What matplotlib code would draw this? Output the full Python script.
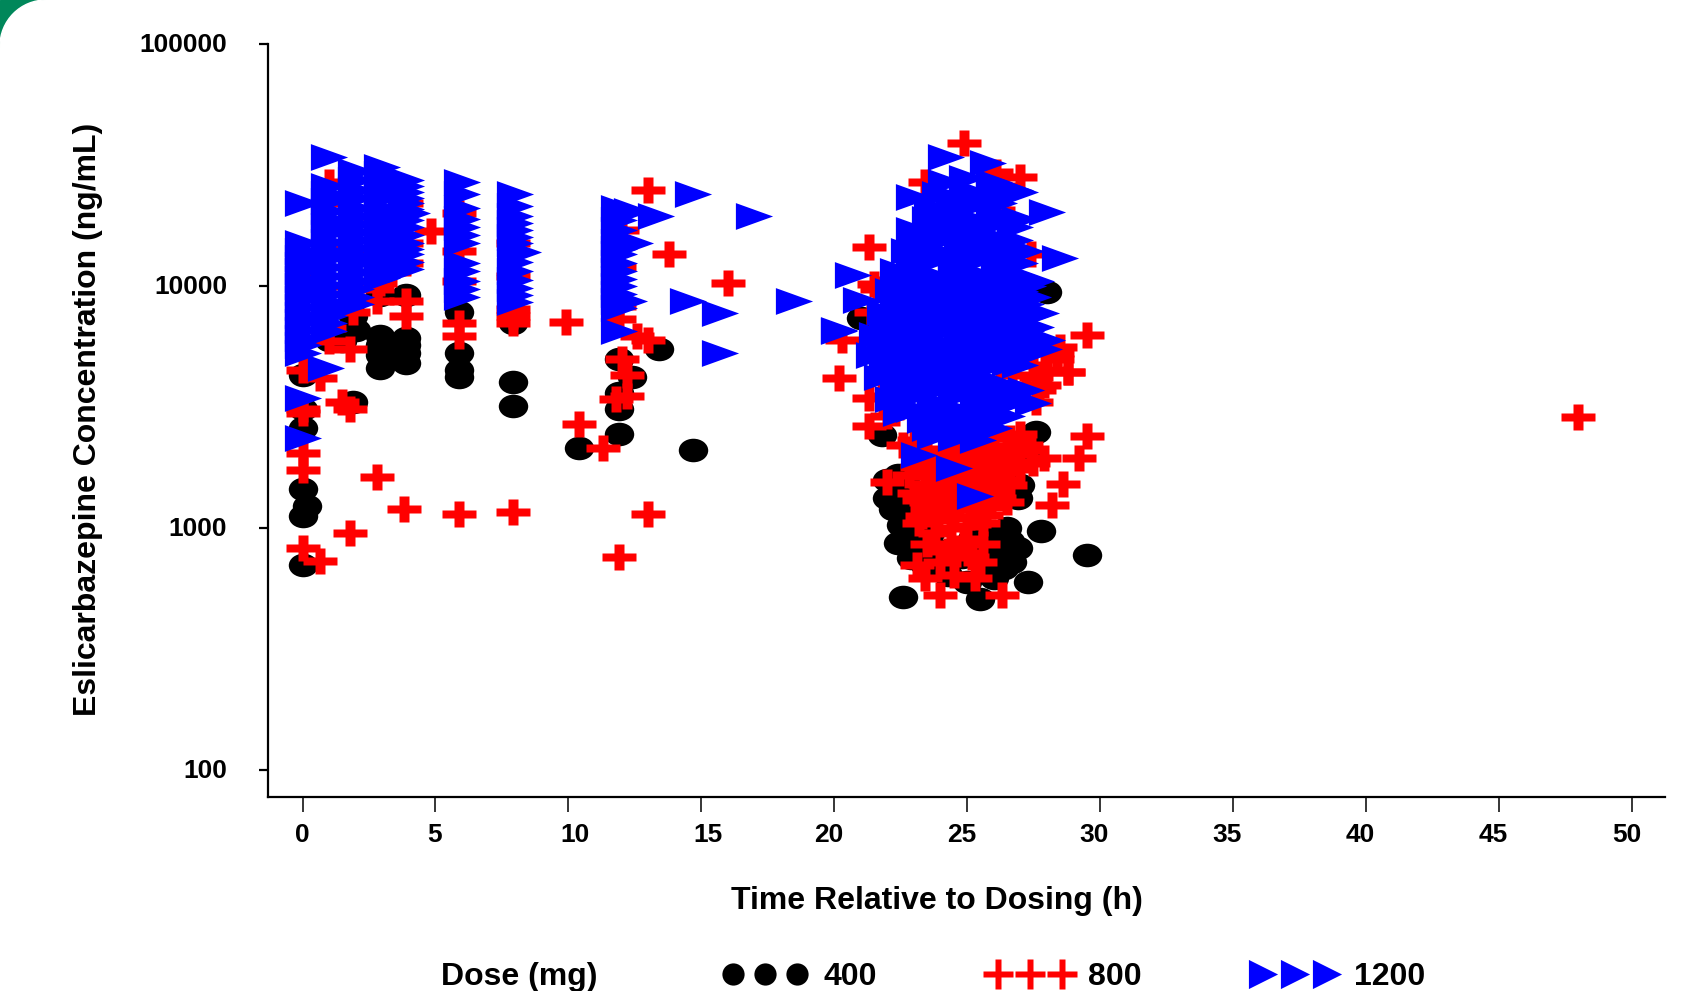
import matplotlib
matplotlib.use("Agg")
import matplotlib.pyplot as plt
import numpy as np
from matplotlib.lines import Line2D
from matplotlib.patches import Ellipse, Rectangle
from matplotlib.path import Path
from matplotlib.transforms import Affine2D, ScaledTranslation

plt.rcParams["font.family"] = ["Liberation Sans", "DejaVu Sans"]
plt.rcParams["font.weight"] = "bold"

# values: (time h, concentration ng/mL)
dose_400 = [
    (0, 1450), (0, 1120), (0.15, 1230), (0, 700), (0, 3100), (0, 2600), (0, 4300),
    (1.0, 6000), (1.5, 5900), (1.9, 7500), (2.0, 6600), (1.9, 3300),
    (2.9, 4600), (2.9, 5200), (2.9, 5700), (2.9, 6200), (3.9, 4800), (3.9, 5300),
    (3.9, 5700), (3.9, 6100), (2.9, 9200), (3.9, 9200),
    (5.9, 7800), (5.9, 5300), (5.9, 4500), (5.9, 4200), (7.9, 4000), (7.9, 3200), (7.9, 7000),
    (10.4, 2150), (11.9, 2450), (11.9, 3100), (11.9, 3600), (11.9, 5000), (12.4, 4200),
    (13.4, 5500), (14.7, 2100), (21.0, 7370), (28.0, 9450),
    (22.6, 520), (25.5, 510), (27.3, 600), (29.5, 773), (27.8, 970), (26.9, 825),
    (26.7, 725), (22.5, 1030), (22.4, 870), (22.9, 750), (26.2, 910), (22.0, 1330),
    (22.0, 1580), (26.9, 1330), (27.6, 2500), (21.8, 2420), (22.4, 1650), (23.0, 900),
    (23.4, 700), (23.8, 820), (24.3, 640), (24.8, 760), (25.2, 900), (25.8, 660),
    (26.1, 720), (26.3, 800), (25.0, 600), (26.5, 1000), (26.6, 1450), (27.2, 2000),
    (22.7, 1150), (23.0, 1300), (23.2, 800), (23.6, 950), (25.9, 800), (26.0, 620),
    (26.4, 680), (26.6, 880), (25.6, 950), (27.0, 1500), (22.2, 1200), (22.7, 1500),
]
dose_800 = [
    (48.0, 2870), (0, 2050), (0, 1730), (0, 830), (0.65, 730), (1.8, 950), (2.8, 1620),
    (3.8, 1200), (5.9, 1140), (7.9, 1160), (13.0, 1140), (11.9, 760), (10.4, 2700),
    (11.3, 2130), (9.9, 7100), (4.85, 16800), (5.9, 6200), (5.9, 7000), (7.9, 7000),
    (13.0, 24900), (13.8, 13600), (16.0, 10300), (13.0, 6000), (12.6, 6200), (12.0, 5000),
    (12.2, 4300), (12.2, 3500), (11.8, 3400), (1.8, 5500), (1.8, 3100), (1.5, 3300),
    (0, 4500), (0.65, 4150), (0, 3000), (0, 3100), (2.8, 9700), (2.8, 8700), (3.9, 8700),
    (3.9, 7500), (2.9, 10300), (1.0, 5900), (1.0, 6700), (1.9, 7800), (5.9, 14000),
    (5.9, 20000), (5.9, 10500), (7.9, 11000), (7.9, 8000), (7.9, 7500), (7.9, 15000),
    (1.0, 27000), (1.0, 22000), (1.0, 14500), (1.0, 10000), (0, 11000), (2.9, 19000),
    (2.0, 14000), (3.9, 22000), (3.9, 15000), (3.9, 12500), (11.9, 8300), (11.9, 7300),
    (11.9, 12000), (12.0, 17000),
    (21.3, 14500), (21.5, 10200), (21.6, 9700), (20.3, 6000), (20.2, 4150), (21.3, 3450),
    (21.3, 2650), (24.9, 39000), (26.1, 29700), (27.0, 28200), (26.0, 20700), (27.4, 13600),
    (29.5, 6300), (28.8, 4400), (28.4, 5300), (28.4, 5000), (29.5, 2400), (29.2, 1950),
    (28.6, 1520), (28.2, 1250), (27.9, 1950), (27.5, 1850), (22.0, 1550), (22.6, 2200),
    (26.5, 1280), (28.5, 5600), (28.8, 4400), (27.6, 4200), (27.2, 3900), (26.7, 4300),
    (27.7, 3700), (23.4, 27000), (26.2, 26000), (26.6, 19000), (26.5, 7300), (27.0, 7100),
    (21.4, 7800), (22.0, 2900), (21.8, 3500),
    (26.3, 530), (24.0, 530), (23.4, 620), (24.5, 640), (25.3, 620), (25.5, 720),
    (25.6, 860), (23.5, 860), (24.3, 800), (24.9, 900), (23.1, 700), (24.0, 720),
    (24.6, 780), (25.2, 760), (23.8, 950), (24.4, 1000), (25.0, 1020), (25.6, 1050),
    (23.2, 1050), (23.5, 1200), (24.1, 1180), (24.7, 1220), (25.3, 1200), (25.9, 1230),
    (23.0, 1400), (23.6, 1400), (24.2, 1380), (24.8, 1420), (25.4, 1400), (26.0, 1450),
    (26.6, 1500), (22.8, 1650), (23.4, 1650), (24.0, 1600), (24.6, 1650), (25.2, 1620),
    (25.8, 1680), (26.4, 1700), (27.0, 1750), (23.2, 1950), (23.8, 1900), (24.4, 1950),
    (25.0, 1900), (25.6, 1950), (26.2, 2000), (26.8, 2050), (23.0, 2300), (25.5, 2250),
    (26.6, 2350), (22.3, 3000),
    (23.2, 1300), (23.8, 1300), (24.4, 1290), (25.0, 1300), (25.6, 1310), (26.2, 1330),
    (23.4, 1520), (24.0, 1500), (24.6, 1520), (25.2, 1500), (25.8, 1540), (26.4, 1580),
    (23.1, 1780), (23.7, 1760), (24.3, 1770), (24.9, 1760), (25.5, 1790), (26.1, 1830),
    (26.7, 1880), (23.5, 2100), (24.1, 2120), (24.7, 2080), (25.3, 2100), (25.9, 2150),
    (26.5, 2180), (27.2, 2200), (23.3, 1120), (23.9, 1100), (24.5, 1100), (25.1, 1110),
    (25.7, 1130), (27.4, 2100), (27.0, 2450), (26.0, 2450), (27.6, 3300), (27.9, 3900),
    (28.0, 4500), (27.5, 4700),
]
dose_1200 = [
    (0, 22000), (0, 15000), (0, 13000), (0, 11500), (0, 10000), (0, 8800), (0, 7600),
    (0, 6600), (0, 5700), (0, 3450), (0, 2350), (0, 14000), (0, 12200), (0, 10700),
    (0, 9400), (0, 8200), (0, 7100), (0, 6100), (0, 5300),
    (1.0, 34000), (1.0, 26000), (1.0, 22500), (1.0, 19000), (1.0, 16500), (1.0, 13000),
    (1.0, 11000), (1.0, 9300), (1.0, 8000), (1.0, 7000), (0.9, 4600), (1.0, 24000),
    (1.0, 20500), (1.0, 17700), (1.0, 15200), (1.0, 14000), (1.0, 12000), (1.0, 10100),
    (1.0, 8600), (1.0, 7500), (1.0, 6500),
    (2.0, 30000), (2.0, 25000), (2.0, 21000), (2.0, 18000), (2.0, 15500), (2.0, 12500),
    (2.0, 10500), (2.0, 9000), (2.0, 27500), (2.0, 23000), (2.0, 19500), (2.0, 16700),
    (2.0, 14300), (2.0, 13300), (2.0, 11400), (2.0, 9700), (2.0, 8400),
    (3.0, 31000), (3.0, 27000), (3.0, 23000), (3.0, 19500), (3.0, 16500), (3.0, 14000),
    (3.0, 12000), (3.0, 10800), (3.0, 29000), (3.0, 25000), (3.0, 21000), (3.0, 18000),
    (3.0, 15200), (3.0, 13000), (3.0, 11400),
    (3.9, 27500), (3.9, 24500), (3.9, 22000), (4.1, 20000), (3.9, 17500), (3.9, 15000),
    (3.9, 13500), (3.9, 11800), (3.9, 26000), (3.9, 23200), (3.9, 20800), (3.9, 18700),
    (3.9, 16200), (3.9, 14200), (3.9, 12600),
    (6.0, 27000), (6.0, 21000), (6.0, 17500), (6.0, 15000), (6.0, 12500), (6.0, 10500),
    (6.0, 9000), (6.0, 24000), (6.0, 19000), (6.0, 16200), (6.0, 11500), (6.0, 9700),
    (8.0, 24000), (8.0, 19500), (8.0, 17000), (8.0, 15000), (8.3, 13800), (8.0, 11500),
    (8.0, 9800), (8.0, 8600), (8.0, 21500), (8.0, 18200), (8.0, 16000), (8.0, 12600),
    (8.0, 10600), (8.0, 9200),
    (11.9, 21000), (12.4, 20500), (11.9, 17000), (12.5, 15000), (11.9, 13500), (11.9, 11500),
    (11.9, 10000), (11.9, 8700), (12.3, 8700), (11.9, 6500), (11.9, 18800), (11.9, 15200),
    (11.9, 14200), (11.9, 12400), (11.9, 10700), (11.9, 9300), (11.9, 8100),
    (13.3, 19500), (14.7, 24000), (17.0, 19400), (14.5, 8700), (15.7, 7700), (15.7, 5300),
    (18.5, 8700), (20.2, 6500), (20.7, 11100), (21.0, 8750), (20.2, 6580),
    (24.2, 34100), (25.8, 32200), (23.0, 23300), (28.0, 20200), (28.5, 13100),
    (27.0, 24400), (24.2, 27000), (25.0, 28000), (26.0, 27000), (24.0, 24000), (25.0, 25000),
    (26.0, 24500), (26.8, 25000),
    (23.7, 21000), (24.5, 20500), (25.2, 21500), (26.0, 20000), (27.0, 19000),
    (23.0, 17000), (23.7, 17500), (24.5, 16500), (25.3, 17000), (26.0, 16000), (26.8, 17500),
    (22.8, 14000), (23.4, 14500), (24.2, 13500), (25.0, 14000), (25.8, 14500), (26.6, 13500),
    (27.2, 14000),
    (22.4, 11500), (23.0, 12000), (23.8, 11000), (24.6, 11800), (25.4, 11200), (26.2, 11500),
    (27.0, 11000), (27.6, 10500),
    (22.2, 9500), (23.0, 9200), (23.8, 9800), (24.6, 9300), (25.4, 9600), (26.2, 9200),
    (27.0, 9500), (27.5, 9000),
    (21.9, 7800), (22.6, 8000), (23.4, 7700), (24.2, 8000), (25.0, 7600), (25.8, 8000),
    (26.6, 7700), (27.4, 7500), (27.8, 7700),
    (21.6, 6300), (22.4, 6500), (23.2, 6200), (24.0, 6500), (24.8, 6300), (25.6, 6400),
    (26.4, 6200), (27.2, 6500), (28.0, 6000),
    (21.5, 5200), (22.2, 5100), (23.0, 5300), (23.8, 5000), (24.6, 5200), (25.4, 5100),
    (26.2, 5300), (27.0, 5100), (27.9, 5500),
    (21.8, 4200), (22.6, 4300), (23.4, 4100), (24.2, 4300), (25.0, 4200), (25.8, 4100),
    (26.6, 4800), (27.0, 4700),
    (22.2, 3400), (23.0, 3500), (23.8, 3300), (24.6, 3500), (25.4, 3400), (26.2, 3500),
    (27.0, 3400), (27.5, 3290),
    (22.5, 2990), (23.4, 2800), (24.2, 2900), (25.0, 2750), (25.8, 2850), (26.5, 2900),
    (23.2, 2000), (23.8, 2400), (24.6, 2350), (25.4, 2300), (24.5, 1770), (25.3, 1350),
    (24.6, 22800), (25.4, 23000), (26.2, 22000), (23.6, 19000), (24.4, 18500), (25.2, 19000),
    (26.0, 18000), (26.8, 15500), (23.2, 15500), (24.0, 15500), (24.8, 15200), (25.6, 15500),
    (26.4, 15000), (23.0, 13000), (23.8, 12800), (24.6, 13000), (25.4, 12800), (26.2, 12800),
    (27.0, 12500), (22.6, 10600), (23.4, 10500), (24.2, 10300), (25.0, 10500), (25.8, 10400),
    (26.6, 10200), (27.3, 10000), (22.4, 8700), (23.2, 8500), (24.0, 8800), (24.8, 8500),
    (25.6, 8700), (26.4, 8500), (27.2, 8400), (22.0, 7000), (22.8, 7100), (23.6, 6900),
    (24.4, 7100), (25.2, 7000), (26.0, 7100), (26.8, 6900), (27.6, 6800), (21.9, 5700),
    (22.7, 5700), (23.5, 5700), (24.3, 5700), (25.1, 5700), (25.9, 5800), (26.7, 5700),
    (27.5, 5800), (22.0, 4600), (22.8, 4700), (23.6, 4500), (24.4, 4700), (25.2, 4600),
    (26.0, 4700), (22.4, 3800), (23.2, 3800), (24.0, 3800), (24.8, 3800), (25.6, 3700),
    (26.4, 3900), (27.2, 3700), (23.0, 3100), (23.8, 3100), (24.6, 3100), (25.4, 3100),
    (26.2, 3150), (23.6, 2600), (24.4, 2600), (25.2, 2550), (26.0, 2600),
]
dose_labels = ["400", "800", "1200"]
x_ticks = [0, 5, 10, 15, 20, 25, 30, 35, 40, 45, 50]
y_ticks = [100, 1000, 10000, 100000]
y_tick_labels = ["100", "1000", "10000", "100000"]

# markers in the picture are stretched sideways
circle = Path.unit_circle().transformed(Affine2D().scale(1, 0.8))
plus = Path(
    [(-0.3, 0.78), (0.3, 0.78), (0.3, 0.24), (1, 0.24), (1, -0.24), (0.3, -0.24),
     (0.3, -0.78), (-0.3, -0.78), (-0.3, -0.24), (-1, -0.24), (-1, 0.24), (-0.3, 0.24),
     (-0.3, 0.78)],
    closed=True,
)
triangle = Path([(-1, 0.72), (1, 0), (-1, -0.72), (-1, 0.72)], closed=True)
plus_key = Path(
    [(-0.2, 1), (0.2, 1), (0.2, 0.22), (1, 0.22), (1, -0.22), (0.2, -0.22), (0.2, -1),
     (-0.2, -1), (-0.2, -0.22), (-1, -0.22), (-1, 0.22), (-0.2, 0.22), (-0.2, 1)],
    closed=True,
)
triangle_key = Path([(-1, 1), (1, 0), (-1, -1), (-1, 1)], closed=True)

fig = plt.figure(figsize=(16.82, 9.91), dpi=100, facecolor="white")

# green rounded corner of the slide
fig.add_artist(Rectangle((0, 1 - 46 / 991), 44 / 1682, 46 / 991, color="#00875a",
                         transform=fig.transFigure))
fig.add_artist(Ellipse((46 / 1682, 1 - 46 / 991), 92 / 1682, 92 / 991, color="white",
                       transform=fig.transFigure))

ax = fig.add_axes([268 / 1682, 1 - 797 / 991, (1665 - 268) / 1682, (797 - 44) / 991])

series = [
    (dose_400, circle, "black", 21.2),
    (dose_800, plus, "#ff0000", 23.8),
    (dose_1200, triangle, "#0000ff", 26.8),
]
for values, marker, color, size in series:
    t, c = np.array(values).T
    ax.plot(t, c, linestyle="none", marker=marker, ms=size, mfc=color, mec="none", clip_on=False)

ax.set_yscale("log")
ax.set_xlim(-1.3, 51.26)
ax.set_ylim(77.3, 100000)
ax.set_xticks(x_ticks)
ax.set_yticks(y_ticks)
ax.set_yticklabels(y_tick_labels)
ax.minorticks_off()
ax.spines["top"].set_visible(False)
ax.spines["right"].set_visible(False)
ax.spines["left"].set_linewidth(1.6)
ax.spines["bottom"].set_linewidth(1.6)
ax.tick_params(axis="y", length=6.5, width=1.6, pad=23, labelsize=19)
ax.tick_params(axis="x", length=11, width=1.1, pad=7.5, labelsize=19)

# the x tick labels sit a little off their ticks in the original
label_shift = [0, -1, 5, 5, -4, -4, -4, -4, -4, -4, -3]
for lab, dx in zip(ax.get_xticklabels(), label_shift):
    lab.set_transform(lab.get_transform() + ScaledTranslation(dx / 72, 0, fig.dpi_scale_trans))
for lab in ax.get_yticklabels():
    lab.set_transform(lab.get_transform() + ScaledTranslation(0, 1 / 72, fig.dpi_scale_trans))

fig.text(937 / 1682, 1 - 901 / 991, "Time Relative to Dosing (h)", fontsize=23,
         ha="center", va="center")
fig.text(88 / 1682, 1 - 419 / 991, "Eslicarbazepine Concentration (ng/mL)", fontsize=23,
         rotation=90, ha="center", va="center")
fig.text(519 / 1682, 1 - 977 / 991, "Dose (mg)", fontsize=23, ha="center", va="center")

handles = [
    Line2D([], [], linestyle="none", marker="o", ms=16, mfc="black", mec="none"),
    Line2D([], [], linestyle="none", marker=plus_key, ms=21, mfc="#ff0000", mec="none"),
    Line2D([], [], linestyle="none", marker=triangle_key, ms=21, mfc="#0000ff", mec="none"),
]
fig.legend(
    handles, dose_labels, numpoints=3, ncol=3, frameon=False, fontsize=23,
    loc="center", bbox_to_anchor=(1074 / 1682, 1 - 977 / 991), handlelength=2.6,
    handletextpad=0.54, columnspacing=3.48, borderpad=0,
)

plt.savefig("out.png", dpi=100)
